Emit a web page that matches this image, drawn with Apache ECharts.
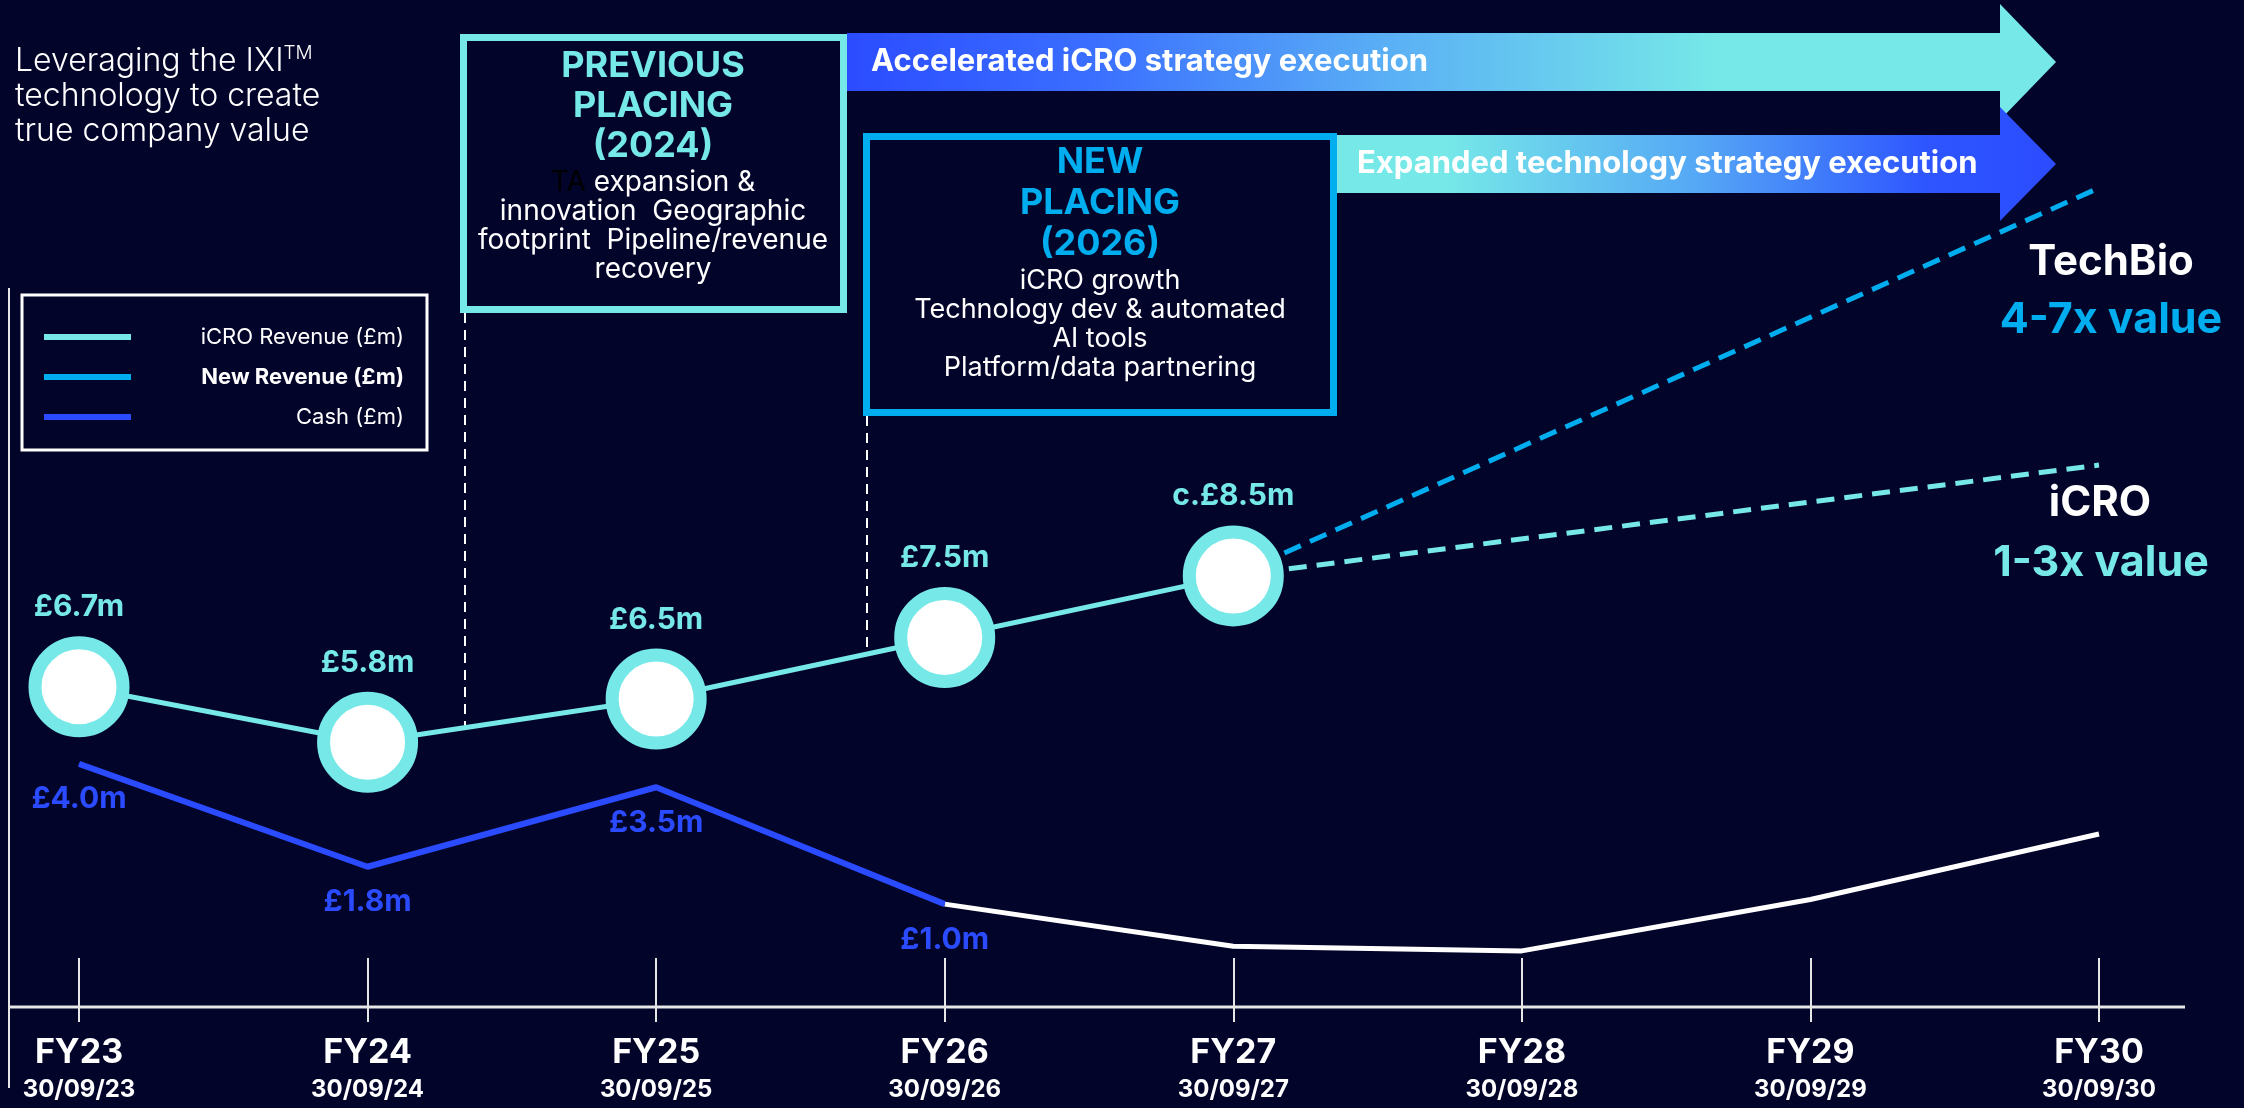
<!DOCTYPE html>
<html>
<head>
<meta charset="utf-8">
<script src="https://cdn.jsdelivr.net/npm/echarts@6/dist/echarts.min.js"></script>
<style>
  html, body { margin: 0; padding: 0; background: #03042a; }
  #chart { width: 2244px; height: 1108px; }
</style>
</head>
<body>
<div id="chart"></div>
<script>
// categories and year-end dates
const categories = ['FY23', 'FY24', 'FY25', 'FY26', 'FY27', 'FY28', 'FY29', 'FY30'];
const yearEnds = ['30/09/23', '30/09/24', '30/09/25', '30/09/26', '30/09/27', '30/09/28', '30/09/29', '30/09/30'];

// iCRO revenue (£m), last one is the c. estimate
const icroRevenue = [6.7, 5.8, 6.5, 7.5, 8.5, null, null, null];
const icroLabelPrefix = ['', '', '', '', 'c.', '', '', ''];
// dashed outlooks from FY27
const icroOutlook = [null, null, null, null, 8.5, null, null, 10.3];
const newRevenueOutlook = [null, null, null, null, 8.5, null, null, 14.8];

// cash (£m): actuals then projection (white)
const cash = [4.0, 1.8, 3.5, 1.0, null, null, null, null];
const cashOutlook = [null, null, null, 1.0, 0.1, 0.0, 1.1, 2.5];

const BG = '#03042a';
const CYAN = '#76e8e8';
const SKY = '#00aeef';
const BLUE = '#2a4bff';
const FONT = 'Inter, "Noto Sans", sans-serif';

const chart = echarts.init(document.getElementById('chart'));

function txt(x, y, text, extra) {
  const style = Object.assign({
    x: x, y: y, text: text, fill: '#fff', fontFamily: FONT,
    align: 'center', textAlign: 'center', verticalAlign: 'middle', textVerticalAlign: 'middle'
  }, extra);
  return { type: 'text', z: 10, style: style };
}

const option = {
  backgroundColor: BG,
  animation: false,
  grid: { left: 79, right: 145, top: 114, bottom: 101, containLabel: false, outerBoundsMode: 'none' },
  xAxis: [
    {
      type: 'category',
      data: categories,
      boundaryGap: false,
      axisLine: { show: false, onZero: false },
      axisTick: { show: true, inside: true, length: 49, lineStyle: { color: '#e6e6e6', width: 2 } },
      splitLine: { show: false },
      axisLabel: {
        interval: 0,
        margin: 26,
        formatter: (v, i) => '{fy|' + v + '}\n{d|' + yearEnds[i] + '}',
        rich: {
          fy: { color: '#fff', fontFamily: FONT, fontWeight: 'bold', fontSize: 34, lineHeight: 40 },
          d: { color: '#fff', fontFamily: FONT, fontWeight: 'bold', fontSize: 24, lineHeight: 34 }
        }
      }
    },
    {
      // lower half of the tick marks
      type: 'category',
      data: categories,
      boundaryGap: false,
      position: 'bottom',
      axisLine: { show: false, onZero: false },
      axisTick: { show: true, inside: false, length: 15, lineStyle: { color: '#e6e6e6', width: 2 } },
      axisLabel: { show: false },
      splitLine: { show: false }
    }
  ],
  yAxis: [
    { type: 'value', min: 1.5, max: 16, show: false },
    { type: 'value', min: -1.2, max: 17.9, show: false }
  ],
  legend: {
    orient: 'vertical',
    left: 22,
    top: 295,
    padding: [31, 23, 22, 22],
    borderColor: '#fff',
    borderWidth: 3,
    itemWidth: 87,
    itemHeight: 6,
    itemGap: 18,
    icon: 'rect',
    selectedMode: false,
    data: [
      { name: 'iCRO Revenue (£m)', itemStyle: { color: CYAN, borderWidth: 0 } },
      { name: 'New Revenue (£m)', itemStyle: { color: SKY, borderWidth: 0 } },
      { name: 'Cash (£m)', itemStyle: { color: BLUE, borderWidth: 0 } }
    ],
    formatter: name => name === 'New Revenue (£m)' ? '{b|' + name + '}' : '{a|' + name + '}',
    textStyle: {
      color: '#fff',
      rich: {
        a: { width: 268, align: 'right', fontSize: 22, lineHeight: 26, color: '#fff', fontFamily: FONT },
        b: { width: 268, align: 'right', fontSize: 22, lineHeight: 26, color: '#fff', fontFamily: FONT, fontWeight: 'bold' }
      }
    }
  },
  series: [
    {
      name: 'iCRO outlook',
      type: 'line',
      yAxisIndex: 0,
      data: icroOutlook,
      connectNulls: true,
      symbol: 'none',
      z: 3,
      lineStyle: { color: CYAN, width: 5, type: [18, 10] },
      itemStyle: { color: CYAN }
    },
    {
      name: 'New Revenue (£m)',
      type: 'line',
      yAxisIndex: 0,
      data: newRevenueOutlook,
      connectNulls: true,
      symbol: 'none',
      z: 3,
      lineStyle: { color: SKY, width: 5, type: [18, 10] },
      itemStyle: { color: SKY }
    },
    {
      name: 'iCRO Revenue (£m)',
      type: 'line',
      yAxisIndex: 0,
      data: icroRevenue,
      z: 5,
      symbol: 'circle',
      symbolSize: 88,
      showAllSymbol: true,
      lineStyle: { color: CYAN, width: 5 },
      itemStyle: { color: '#fff', borderColor: CYAN, borderWidth: 13 },
      label: {
        show: true,
        position: 'top',
        distance: 14,
        color: CYAN,
        fontFamily: FONT,
        fontWeight: 'bold',
        fontSize: 30,
        formatter: p => icroLabelPrefix[p.dataIndex] + '£' + p.value.toFixed(1) + 'm'
      }
    },
    {
      name: 'Cash (£m)',
      type: 'line',
      yAxisIndex: 1,
      data: cash,
      symbol: 'circle',
      symbolSize: 1,
      showSymbol: true,
      showAllSymbol: true,
      z: 3,
      lineStyle: { color: BLUE, width: 6 },
      itemStyle: { color: BLUE },
      label: {
        show: true,
        position: 'bottom',
        distance: 20,
        color: BLUE,
        fontFamily: FONT,
        fontWeight: 'bold',
        fontSize: 30,
        formatter: p => '£' + p.value.toFixed(1) + 'm'
      }
    },
    {
      name: 'Cash outlook',
      type: 'line',
      yAxisIndex: 1,
      data: cashOutlook,
      symbol: 'none',
      z: 2,
      lineStyle: { color: '#fff', width: 5 },
      itemStyle: { color: '#fff' }
    }
  ],
  graphic: {
    elements: [
      // frame lines
      { type: 'line', shape: { x1: 9, y1: 288, x2: 9, y2: 1088 }, style: { stroke: '#e6e6e6', lineWidth: 2 } },
      { type: 'line', shape: { x1: 9, y1: 1007, x2: 2185, y2: 1007 }, style: { stroke: '#e6e6e6', lineWidth: 3 } },
      // dashed markers from the placing boxes
      { type: 'line', shape: { x1: 465, y1: 313, x2: 465, y2: 728 }, style: { stroke: '#fff', lineWidth: 2, lineDash: [10, 7] } },
      { type: 'line', shape: { x1: 867, y1: 416, x2: 867, y2: 648 }, style: { stroke: '#fff', lineWidth: 2, lineDash: [10, 7] } },
      // arrows
      {
        type: 'polygon',
        shape: { points: [[847, 33], [2000, 33], [2000, 4], [2056, 62], [2000, 120], [2000, 91], [847, 91]] },
        style: {
          fill: new echarts.graphic.LinearGradient(0, 0, 1, 0, [
            { offset: 0, color: '#2b4cff' },
            { offset: 0.2, color: '#3a6eff' },
            { offset: 0.45, color: '#5ab0f5' },
            { offset: 0.72, color: CYAN },
            { offset: 1, color: CYAN }
          ])
        }
      },
      {
        type: 'polygon',
        shape: { points: [[1337, 135], [2000, 135], [2000, 107], [2056, 164], [2000, 221], [2000, 193], [1337, 193]] },
        style: {
          fill: new echarts.graphic.LinearGradient(0, 0, 1, 0, [
            { offset: 0, color: CYAN },
            { offset: 0.15, color: CYAN },
            { offset: 0.5, color: '#55a8f5' },
            { offset: 0.82, color: '#2e55ff' },
            { offset: 1, color: '#2b4cff' }
          ])
        }
      },
      txt(871, 62, 'Accelerated iCRO strategy execution', { align: 'left', textAlign: 'left', fontSize: 31, fontWeight: 'bold' }),
      txt(1357, 164, 'Expanded technology strategy execution', { align: 'left', textAlign: 'left', fontSize: 31, fontWeight: 'bold' }),
      // placing boxes
      { type: 'rect', shape: { x: 463.5, y: 37.5, width: 380, height: 272 }, style: { fill: BG, stroke: CYAN, lineWidth: 7 } },
      { type: 'rect', shape: { x: 866.5, y: 136.5, width: 467, height: 276 }, style: { fill: BG, stroke: SKY, lineWidth: 7 } },
      txt(653, 46, 'PREVIOUS\nPLACING\n(2024)', { verticalAlign: 'top', textVerticalAlign: 'top', fill: CYAN, fontSize: 36, fontWeight: 'bold', lineHeight: 40 }),
      txt(653, 168, '{k|TA} expansion &\ninnovation  Geographic\nfootprint  Pipeline/revenue\nrecovery', {
        verticalAlign: 'top', textVerticalAlign: 'top', fontSize: 28, lineHeight: 29,
        rich: { k: { fill: '#000', color: '#000', fontSize: 28, lineHeight: 29, fontFamily: FONT } }
      }),
      txt(1100, 142, 'NEW\nPLACING\n(2026)', { verticalAlign: 'top', textVerticalAlign: 'top', fill: SKY, fontSize: 36, fontWeight: 'bold', lineHeight: 41 }),
      txt(1100, 266, 'iCRO growth\nTechnology dev & automated\nAI tools\nPlatform/data partnering', { verticalAlign: 'top', textVerticalAlign: 'top', fontSize: 27, lineHeight: 29 }),
      // intro text
      txt(15, 44, 'Leveraging the IXI{sup|TM}\ntechnology to create\ntrue company value', {
        align: 'left', textAlign: 'left', verticalAlign: 'top', textVerticalAlign: 'top',
        fontSize: 32, fontWeight: 300, lineHeight: 35,
        rich: { sup: { fontSize: 19, lineHeight: 18, verticalAlign: 'top', fill: '#fff', color: '#fff', fontWeight: 300, fontFamily: FONT } }
      }),
      // outlook labels
      txt(2111, 262, 'TechBio', { fontSize: 42, fontWeight: 'bold' }),
      txt(2111, 320, '4-7x value', { fontSize: 43, fontWeight: 'bold', fill: SKY }),
      txt(2100, 503, 'iCRO', { fontSize: 42, fontWeight: 'bold' }),
      txt(2101, 563, '1-3x value', { fontSize: 43, fontWeight: 'bold', fill: CYAN })
    ]
  }
};

chart.setOption(option);
</script>
</body>
</html>
